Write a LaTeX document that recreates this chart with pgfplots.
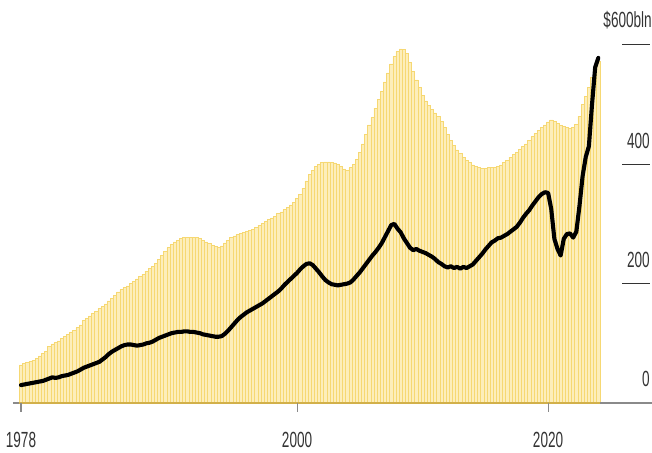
\documentclass[border=0pt]{standalone}
\usepackage{pgfplots}
\pgfplotsset{compat=1.18}
\usepackage{pgfplotstable}
\usepackage{fontspec}
\setmainfont[FakeStretch=0.62]{Liberation Sans}

\definecolor{barfill}{HTML}{FDEEBB}
\definecolor{barline}{HTML}{F6D873}
\definecolor{basegold}{HTML}{D2B04A}
\definecolor{axisgray}{HTML}{8A8A8A}
\definecolor{labelgray}{HTML}{333333}

% quarterly series, $bln: e = total (bars), l = line series
\pgfplotstableread{
t e l
1978.00 64 30
1978.25 66 31
1978.50 68 32
1978.75 70 33
1979.00 72 34
1979.25 75 35
1979.50 79 36
1979.75 83 37
1980.00 87 39
1980.25 95 41
1980.50 99 43
1980.75 101 42
1981.00 104 43
1981.25 108 45
1981.50 112 46
1981.75 115 47
1982.00 119 49
1982.25 122 51
1982.50 126 53
1982.75 131 56
1983.00 139 59
1983.25 142 61
1983.50 146 63
1983.75 150 65
1984.00 154 67
1984.25 158 69
1984.50 162 73
1984.75 166 77
1985.00 171 82
1985.25 175 86
1985.50 180 89
1985.75 186 92
1986.00 190 95
1986.25 193 97
1986.50 196 98
1986.75 200 98
1987.00 204 97
1987.25 208 96
1987.50 212 97
1987.75 216 98
1988.00 221 100
1988.25 225 101
1988.50 229 103
1988.75 234 106
1989.00 240 109
1989.25 247 111
1989.50 254 113
1989.75 260 115
1990.00 266 117
1990.25 270 118
1990.50 273 119
1990.75 276 119
1991.00 277 120
1991.25 278 120
1991.50 278 119
1991.75 277 119
1992.00 277 118
1992.25 276 117
1992.50 273 115
1992.75 270 114
1993.00 267 113
1993.25 264 112
1993.50 262 111
1993.75 261 111
1994.00 263 112
1994.25 268 116
1994.50 273 121
1994.75 277 127
1995.00 280 133
1995.25 282 139
1995.50 284 144
1995.75 286 148
1996.00 287 152
1996.25 289 155
1996.50 291 158
1996.75 294 161
1997.00 298 164
1997.25 301 167
1997.50 304 171
1997.75 307 175
1998.00 310 179
1998.25 313 183
1998.50 317 187
1998.75 320 192
1999.00 324 198
1999.25 328 203
1999.50 332 208
1999.75 336 213
2000.00 343 218
2000.25 350 224
2000.50 360 229
2000.75 372 233
2001.00 383 234
2001.25 390 231
2001.50 396 225
2001.75 400 219
2002.00 403 212
2002.25 404 206
2002.50 404 202
2002.75 403 199
2003.00 402 198
2003.25 400 197
2003.50 396 198
2003.75 392 199
2004.00 390 200
2004.25 394 202
2004.50 400 207
2004.75 408 213
2005.00 420 219
2005.25 434 226
2005.50 450 233
2005.75 466 240
2006.00 478 247
2006.25 494 253
2006.50 508 260
2006.75 522 268
2007.00 538 278
2007.25 553 288
2007.50 568 298
2007.75 580 300
2008.00 589 292
2008.25 593 286
2008.50 592 276
2008.75 585 268
2009.00 570 260
2009.25 555 256
2009.50 541 258
2009.75 528 255
2010.00 515 253
2010.25 506 251
2010.50 499 248
2010.75 492 245
2011.00 486 241
2011.25 480 236
2011.50 472 233
2011.75 461 229
2012.00 450 227
2012.25 440 229
2012.50 432 226
2012.75 424 228
2013.00 418 225
2013.25 412 228
2013.50 407 226
2013.75 403 229
2014.00 399 232
2014.25 396 238
2014.50 394 244
2014.75 393 250
2015.00 393 257
2015.25 394 263
2015.50 394 269
2015.75 395 272
2016.00 396 276
2016.25 399 277
2016.50 403 280
2016.75 407 283
2017.00 412 287
2017.25 416 291
2017.50 420 295
2017.75 425 302
2018.00 430 310
2018.25 434 317
2018.50 440 323
2018.75 446 331
2019.00 451 338
2019.25 456 345
2019.50 461 350
2019.75 466 353
2020.00 471 352
2020.25 474 325
2020.50 472 275
2020.75 468 258
2021.00 465 247
2021.25 463 275
2021.50 461 283
2021.75 460 284
2022.00 462 277
2022.25 467 287
2022.50 480 330
2022.75 500 380
2023.00 514 412
2023.25 528 430
2023.50 545 500
2023.75 560 562
2024.00 572 578
}\data

\begin{document}
\begin{tikzpicture}
% x runs in years after 1978
\begin{axis}[
  at={(0,0)}, anchor=south west,
  scale only axis,
  width=652bp, height=453bp,
  xmin=-1.673, xmax=50.28,
  ymin=-83.75, ymax=675,
  hide axis,
  clip=false,
  font=\fontsize{22}{22}\selectfont\color{labelgray},
]
  % bars
  \addplot[ybar, bar width=3.14bp, bar shift=0pt, fill=barfill,
           draw=barline, line width=0.55bp]
    table[x expr=\thisrow{t}-1978, y=e] {\data};

  % baseline
  \draw[axisgray, line width=1.5bp] (axis cs:-0.65,0) -- (axis cs:50.28,0);
  \draw[basegold, line width=1.5bp] (axis cs:-0.125,0) -- (axis cs:46.125,0);

  % line series
  \addplot[black, line width=4.1bp, line join=round, line cap=round]
    table[x expr=\thisrow{t}-1978, y=l] {\data};

  % x ticks and labels
  \draw[axisgray, line width=1.1bp] (axis cs:0,0) -- ([yshift=-9bp]axis cs:0,0);
  \draw[axisgray, line width=1.1bp] (axis cs:22,0) -- ([yshift=-9bp]axis cs:22,0);
  \draw[axisgray, line width=1.1bp] (axis cs:42,0) -- ([yshift=-9bp]axis cs:42,0);
  \node[anchor=base, inner sep=0pt] at ([yshift=-45bp]axis cs:0,0) {1978};
  \node[anchor=base, inner sep=0pt] at ([yshift=-45bp]axis cs:22,0) {2000};
  \node[anchor=base, inner sep=0pt] at ([yshift=-45bp]axis cs:42,0) {2020};

  % right-hand value scale
  \draw[labelgray, line width=1.3bp] (axis cs:47.9,200) -- (axis cs:50.12,200);
  \draw[labelgray, line width=1.3bp] (axis cs:47.9,400) -- (axis cs:50.12,400);
  \draw[labelgray, line width=1.3bp] (axis cs:47.9,600) -- (axis cs:50.12,600);
  \node[anchor=base east, inner sep=0pt] at ([yshift=16bp]axis cs:50.12,0) {0};
  \node[anchor=base east, inner sep=0pt] at ([yshift=16bp]axis cs:50.12,200) {200};
  \node[anchor=base east, inner sep=0pt] at ([yshift=16bp]axis cs:50.12,400) {400};
  \node[anchor=base east, inner sep=0pt] at ([yshift=17bp]axis cs:50.28,600) {\$600bln};
\end{axis}
\pgfresetboundingbox
\path[use as bounding box] (0,0) rectangle (652bp,453bp);
\end{tikzpicture}
\end{document}
